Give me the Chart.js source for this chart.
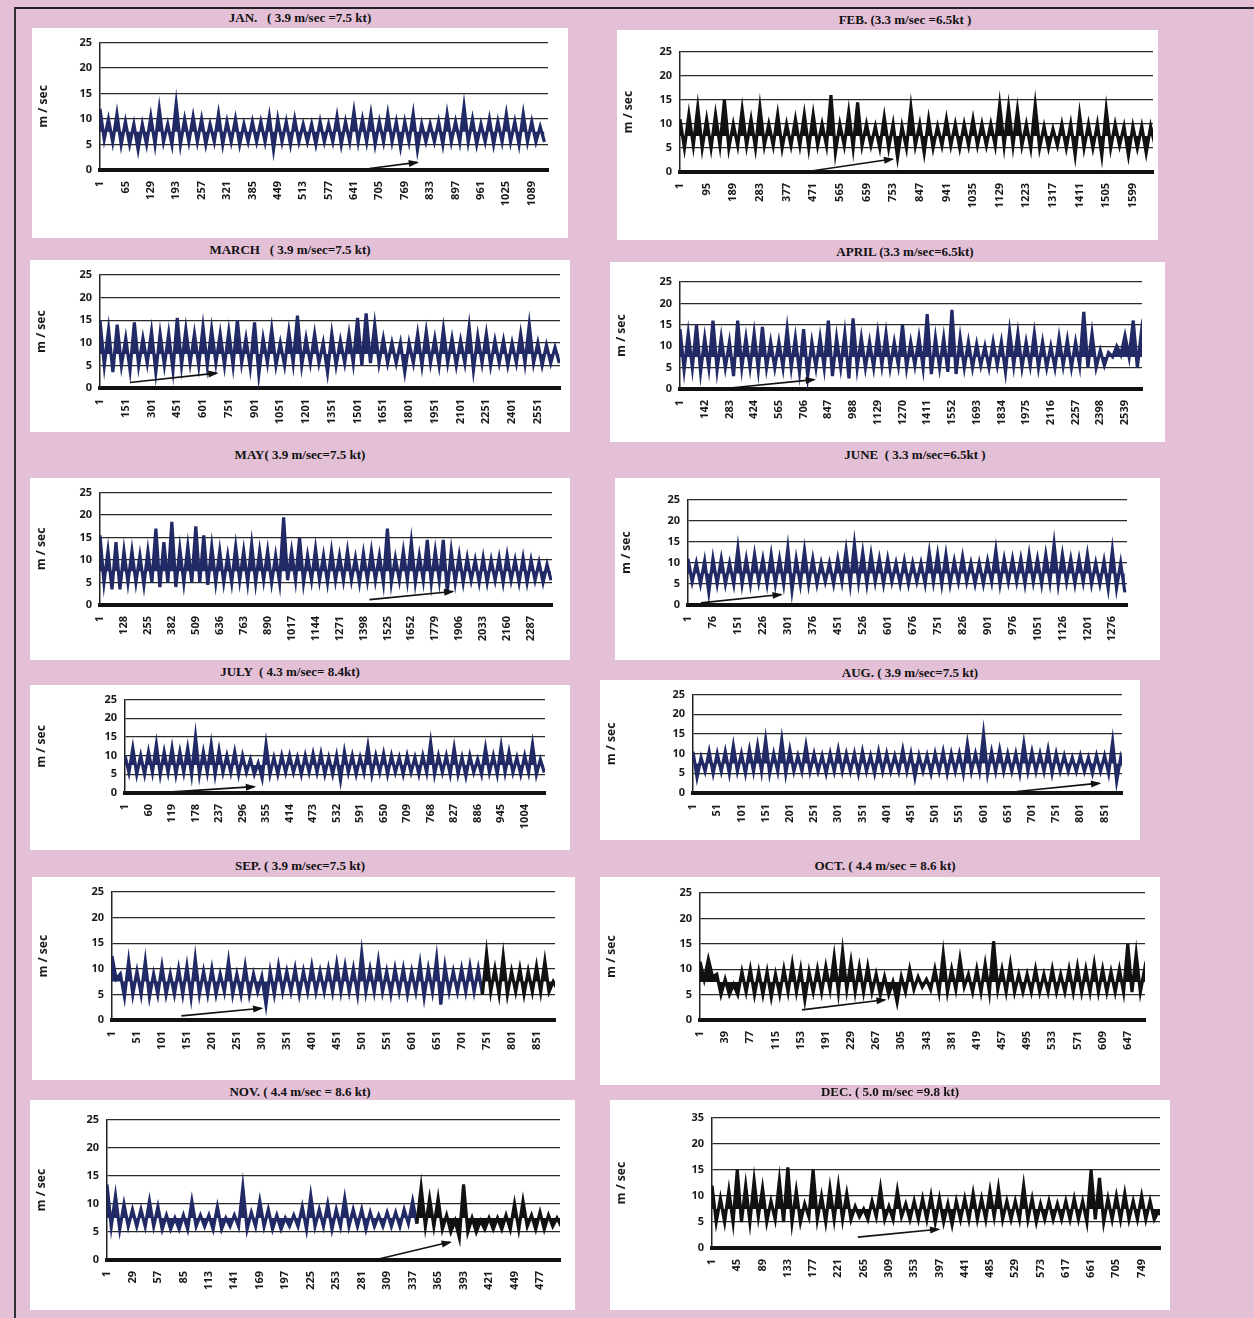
<!DOCTYPE html>
<html>
<head>
<meta charset="utf-8">
<script src="https://cdn.jsdelivr.net/npm/chart.js@4.4.1/dist/chart.umd.min.js"></script>
<style>
  html, body { margin: 0; padding: 0; }
  body { width: 1254px; height: 1318px; background: #e4c0d7; position: relative; overflow: hidden; }
  .frame { position: absolute; left: 14px; top: 7px; width: 1240px; height: 1311px; border-top: 2px solid #222; border-left: 2px solid #333; }
  .box { position: absolute; background: #fff; }
  .title { position: absolute; transform: translateX(-50%); white-space: pre; font: bold 13px "Liberation Serif", serif; color: #111; }
</style>
</head>
<body>
<div class="frame"></div>
<script>
// tick labels along the x axis of each month
const janTicks = [1, 65, 129, 193, 257, 321, 385, 449, 513, 577, 641, 705, 769, 833, 897, 961, 1025, 1089];
const febTicks = [1, 95, 189, 283, 377, 471, 565, 659, 753, 847, 941, 1035, 1129, 1223, 1317, 1411, 1505, 1599];
const marTicks = [1, 151, 301, 451, 601, 751, 901, 1051, 1201, 1351, 1501, 1651, 1801, 1951, 2101, 2251, 2401, 2551];
const aprTicks = [1, 142, 283, 424, 565, 706, 847, 988, 1129, 1270, 1411, 1552, 1693, 1834, 1975, 2116, 2257, 2398, 2539];
const mayTicks = [1, 128, 255, 382, 509, 636, 763, 890, 1017, 1144, 1271, 1398, 1525, 1652, 1779, 1906, 2033, 2160, 2287];
const junTicks = [1, 76, 151, 226, 301, 376, 451, 526, 601, 676, 751, 826, 901, 976, 1051, 1126, 1201, 1276];
const julTicks = [1, 60, 119, 178, 237, 296, 355, 414, 473, 532, 591, 650, 709, 768, 827, 886, 945, 1004];
const augTicks = [1, 51, 101, 151, 201, 251, 301, 351, 401, 451, 501, 551, 601, 651, 701, 751, 801, 851];
const sepTicks = [1, 51, 101, 151, 201, 251, 301, 351, 401, 451, 501, 551, 601, 651, 701, 751, 801, 851];
const octTicks = [1, 39, 77, 115, 153, 191, 229, 267, 305, 343, 381, 419, 457, 495, 533, 571, 609, 647];
const novTicks = [1, 29, 57, 85, 113, 141, 169, 197, 225, 253, 281, 309, 337, 365, 393, 421, 449, 477];
const decTicks = [1, 45, 89, 133, 177, 221, 265, 309, 353, 397, 441, 485, 529, 573, 617, 661, 705, 749];

// last reading number of each month
const lastReading = [1130, 1670, 2680, 2636, 2398, 1320, 1055, 887, 888, 673, 499, 781];

// wind speed (m/sec): upper and lower edge of the trace, 3 readings per tick step
const janHi = [12,10,11, 9.5,9,9, 10.5,12,9, 13,10,10.5, 10,9,11, 9.5,10,9, 9.5,9.5,10.5, 10,9.5,10, 9,9,9.5,
  9,10.5,9.5, 11.5,10,11, 9.5,11,9.5, 9.5,11,9, 9,9.5,11, 9.5,12.5,10, 9,10,9.5, 11,9.5,11, 9.5,8.5];
const janLo = [6,5.5,5, 5,4,5, 5,5.5,5, 5,5.5,5.5, 5,5.5,5, 5.5,5,5.5, 5.5,5.5,4, 5.5,5,5.5, 5.5,5,5.5,
  5.5,5,5.5, 5.5,5.5,5, 5.5,5.5,4.5, 5.5,4,5.5, 5.5,5,5.5, 5.5,5.5,5, 5.5,5,5.5, 5.5,5,5.5, 5.5,5.5];
const febHi = [11,12,13.5, 11,12,15, 10,13,11, 13.5,10,12, 10,11,12, 12,10,16, 10,12.5,14.5, 10,9.5,11.5,
  10,9.5,13.5, 10,11,9.5, 11,10,10, 11,10,10, 14,13.5,13, 10,14,9.5, 9,10,10, 12,10,10, 13,10,9.5, 9.5,9.5,9.5];
const febLo = [5,5.5,5, 5,5.5,5, 5.5,5.5,5, 5.5,5.5,5, 5.5,5.5,5, 5.5,5.5,4, 5.5,5,5.5, 5.5,5,5,
  3,5,5.5, 4,5,5.5, 5.5,5,5.5, 5.5,5.5,5.5, 5.5,5.5,5.5, 5,5,5, 5.5,5,3.5, 5,5,3.5, 5,5.5,3.5, 5,4,5.5];
const marHi = [15,13,14, 11,14.5,11, 12.5,12,12, 15.5,13,12, 13.5,13,12, 12.5,15,11, 14.5,11,13, 10,12.5,16,
  11,12,10, 12,10.5,12, 15.5,16.5,14, 11,10,10, 10,12,12.5, 11,13,11, 10.5,13.5,11.5, 12,10.5,10.5, 10,12,14, 10,9.5,9];
const marLo = [5,3.5,5, 4,5,5.5, 3.5,5,4, 5,5.5,5, 5,5.5,5, 5,5.5,4.5, 3,5.5,5, 5,5.5,5,
  5.5,5.5,3.5, 5,5.5,5.5, 5,5.5,5.5, 5.5,5.5,3.5, 5.5,5,5.5, 5,5.5,5, 5.5,4,5.5, 5,5.5,5, 5.5,5.5,5.5, 5,5.5,5.5];
const aprHi = [14,13,15, 12,16,12, 11,16,12, 13,14.5,11, 11,14,12, 14,11,12, 16,12,13, 16.5,12,11,
  13,13,11, 15,11,12, 17.5,12,12, 18.5,12,11, 10.5,10,11, 11,13.5,13, 11,13,11, 10,12,11.5, 11,18,13, 9,8.5,10, 12.5,16,13.5];
const aprLo = [4.5,5,4, 5,4.5,5, 3,5,5, 4.5,5,5, 5,5,4, 3,5,5, 3,5,2.5, 5,5,5,
  5.5,5,5.5, 5,5.5,5, 3.5,5,4, 3.5,5,5, 5.5,5,5.5, 4,5.5,5, 5.5,5,5, 5,5.5,5, 5.5,5,5, 5.5,7.5,8, 7.5,5,5.5];
const mayHi = [15.5,12,14, 12,12,11, 12,17,14, 18.5,12.5,13, 17.5,15.5,13, 12,11,13, 12,13.5,12, 12,11,19.5,
  12,15,11, 12.5,11,12, 11,12,10.5, 11.5,12,11, 17,10.5,12, 14,11,14.5, 12,14.5,12, 11,10.5,10, 10.5,10,10.5, 11,10,10.5, 10,9.5,9];
const mayLo = [5,3.5,3.5, 5,5,4.5, 5,4,5, 4,5,5, 5,4.5,5, 5,5,5.5, 5,5,5.5, 5,5,5.5,
  5.5,5,5.5, 5.5,5,5.5, 5.5,5.5,5, 5.5,5.5,5, 5,5.5,5.5, 5,5.5,5, 5.5,3,5, 5,5.5,5, 5,5.5,5, 5.5,5,5, 5.5,5,5.5];
const junHi = [11,10,10.5, 11,11,10, 13.5,11,12, 11,12,11, 13.5,11,13, 11,10,10, 11,13,14.5, 12.5,12,11,
  11,10,10.5, 10,10,12.5, 12,12,10.5, 11.5,10,10, 10.5,13,11, 11,11,12, 11,12,14.5, 12,11,11, 12,10,10.5, 13,10];
const junLo = [5.5,5,3, 5,5,5, 5,5,5.5, 5,5,5, 3.5,5,5, 5,5.5,5, 5.5,5,5.5, 5,5.5,5,
  5.5,5,5, 5.5,5,5.5, 5,5,5.5, 5.5,5,5, 5.5,5,5.5, 5.5,5,5.5, 5,5.5,5, 5.5,5,5.5, 5,5,4, 4,3];
const julHi = [10,12,10, 11,13,11, 12,11,12, 15,11,13, 11.5,10,11, 10,9,8, 13,9.5,10, 10,9.5,10,
  10.5,10.5,9.5, 10,11,10, 9.5,12.5,10, 10.5,10,9.5, 10,9.5,10, 13.5,10,10, 12,9.5,10, 9,12,10, 12.5,11,9.5, 10,13,9];
const julLo = [5.5,5,5, 5.5,5,5.5, 5,5.5,5, 5,5.5,5, 5.5,5.5,5, 5.5,5,4, 5,5,5.5, 5.5,5,5.5,
  5.5,5,5, 3.5,5.5,5, 5.5,5,5.5, 5,5.5,5, 5.5,5,5.5, 5,5.5,5, 5,4.5,5.5, 5,5.5,5, 5.5,5.5,5, 5.5,5,5.5];
const augHi = [10.5,9,10.5, 10,10.5,12, 10,11,12, 13.5,10,13.5, 11,9.5,12, 10,9.5,10, 11,10,10, 10.5,9.5,10.5,
  10,9.5,11, 10,9.5,9.5, 10,10.5,10, 10,12.5,10, 15,10.5,11, 10,10,12.5, 10.5,10,11, 10,9.5,9, 9.5,9,9.5, 9.5,13,9];
const augLo = [4,5.5,5, 5.5,5,5.5, 5,5.5,5.5, 5,5.5,5, 5.5,5.5,5.5, 5.5,5,5.5, 5.5,5.5,5, 5.5,5,5.5,
  5.5,5.5,5.5, 4,5.5,5, 5.5,5,5.5, 5,5.5,5.5, 5,5.5,5.5, 5.5,5,5.5, 5.5,5.5,5, 5.5,5.5,5.5, 5.5,5,5.5, 5,3,5.5];
const sepHi = [12.5,9,11.5, 9.5,11.5,9, 10.5,9,10, 10.5,12,9.5, 10,9,11.5, 9,10.5,9, 8.5,9.5,10.5, 9.5,10,9.5,
  10.5,9.5,10, 11,10.5,10, 13,10,11.5, 9.5,10,10, 9.5,11,10, 12,10.5,9.5, 10,10.5,10, 13,10,12.5, 9.5,10,9.5, 10.5,11.5,7.5];
const sepLo = [8,4.5,5, 5,4.5,5, 5,5,5, 4.5,5,5, 5,5.5,5, 5,5,5.5, 3,5,5.5, 5.5,5,5.5,
  5.5,5.5,5.5, 5.5,5.5,5, 5.5,5.5,5.5, 5,5.5,5, 5.5,4.5,5.5, 3,5.5,5.5, 5.5,5.5,5, 5.5,5,5, 5.5,5,5.5, 5.5,5.5,6];
const octHi = [11.5,12,9, 8,7,9.5, 10,9.5,9.5, 9,10,11, 10,9.5,10, 10.5,12.5,13.5, 11.5,10.5,10.5, 9,8.5,7.5,
  8.5,10,8.5, 8,10,13, 10,12,9, 10,11,15.5, 10,11,9, 9,10,9, 10,9,10, 10.5,10,11, 10,9.5,10, 15,13,10];
const octLo = [8,8.5,5, 5,5,5.5, 5,5,4.5, 5,5.5,5.5, 4,5.5,5.5, 6,5.5,6, 5.5,5.5,5.5, 5,5,3.5,
  5.5,6,6.5, 6,5.5,5.5, 6,6.5,5.5, 5.5,5.5,6, 5.5,5.5,5.5, 5.5,5.5,5.5, 5.5,5.5,5.5, 5.5,5.5,5.5, 5.5,5.5,5.5, 5.5,5.5,5.5];
const novHi = [13.5,11.5,10, 9,9,10.5, 9.5,8,7.5, 8,10.5,8, 8,9.5,7.5, 8,13,8.5, 10.5,9,8, 7.5,8,9.5,
  11.5,9,10, 9,11,9, 9,8.5,8, 8.5,8.5,9, 10.5,13,11, 11,8,7, 13.5,7.5,7, 7.5,7.5,8, 10,10.5,8, 8.5,8,7.5];
const novLo = [6,5.5,6, 6,6,6, 5.5,5.5,5.5, 5.5,6,6, 5.5,5.5,6, 6,5.5,6, 6,5.5,5.5, 6,6,5.5,
  6,6,5.5, 6,6,6, 5.5,6,6, 6,6,6.5, 6.5,6,6, 5.5,5,4, 5,5,5.5, 5.5,5.5,5.5, 5.5,6,5.5, 5.5,6,6];
const decHi = [12,9.5,11, 15,12,13, 11.5,9,13, 15.5,11,8.5, 15,10,11.5, 12,10.5,8, 7.5,9,11.5, 8,11,8.5,
  9,9.5,10, 9.5,8.5,9, 9.5,10.5,9.5, 11,11.5,9, 9,12,9.5, 8.5,9,8.5, 9,9.5,9, 15,13.5,9.5, 10,10.5,9, 10,9,7];
const decLo = [5,5,5, 5,5,6, 5,5.5,5, 5,5,6, 5.5,5,5.5, 5.5,5.5,6, 5.5,6,5.5, 5.5,6,5.5,
  5.5,5.5,5, 5,4.5,5.5, 5.5,5.5,5.5, 6,5.5,5.5, 5.5,5.5,5, 5.5,5.5,5.5, 5.5,5.5,5, 5.5,5,5.5, 5.5,5.5,5.5, 5.5,5.5,6];

// hand-drawn arrows on the originals: [from reading, from m/sec, to reading, to m/sec]
const arrows = [
  [680, 0.3, 800, 1.5], [440, 0, 750, 2.7], [175, 1.2, 680, 3.3], [300, 0.3, 765, 2.2],
  [1430, 1.2, 1870, 3], [40, 0.5, 280, 2.5], [120, 0.3, 325, 1.7], [670, 0.4, 840, 2.5],
  [140, 0.8, 300, 2.3], [155, 2, 280, 4], [295, 0, 378, 3.2], [255, 2.1, 395, 3.6]
];

const titles = [
  'JAN.   ( 3.9 m/sec =7.5 kt)', 'FEB. (3.3 m/sec =6.5kt )', 'MARCH   ( 3.9 m/sec=7.5 kt)', 'APRIL (3.3 m/sec=6.5kt)',
  'MAY( 3.9 m/sec=7.5 kt)', 'JUNE  ( 3.3 m/sec=6.5kt )', 'JULY  ( 4.3 m/sec= 8.4kt)', 'AUG. ( 3.9 m/sec=7.5 kt)',
  'SEP. ( 3.9 m/sec=7.5 kt)', 'OCT. ( 4.4 m/sec = 8.6 kt)', 'NOV. ( 4.4 m/sec = 8.6 kt)', 'DEC. ( 5.0 m/sec =9.8 kt)'
];

const NAVY = '#222a66';
const BLACK = '#111111';

// layout: white box [left, top, width, height], plot [axisX, y of 25, rightX, y of 0], title [centerX, top]
const panels = [
  { ticks: janTicks, hi: janHi, lo: janLo, color: NAVY, box: [32, 28, 536, 210], plot: [100, 40, 548, 170], t: [300, 10] },
  { ticks: febTicks, hi: febHi, lo: febLo, color: BLACK, box: [617, 30, 541, 210], plot: [680, 52, 1153, 172], t: [905, 12] },
  { ticks: marTicks, hi: marHi, lo: marLo, color: NAVY, box: [30, 260, 540, 172], plot: [100, 275, 560, 388], t: [290, 242] },
  { ticks: aprTicks, hi: aprHi, lo: aprLo, color: NAVY, box: [610, 262, 555, 180], plot: [680, 282, 1142, 389], t: [905, 244] },
  { ticks: mayTicks, hi: mayHi, lo: mayLo, color: NAVY, box: [30, 478, 540, 182], plot: [100, 490, 552, 605], t: [300, 447] },
  { ticks: junTicks, hi: junHi, lo: junLo, color: NAVY, box: [615, 478, 545, 182], plot: [688, 500, 1127, 605], t: [915, 447] },
  { ticks: julTicks, hi: julHi, lo: julLo, color: NAVY, box: [30, 685, 540, 165], plot: [125, 690, 545, 793], t: [290, 664] },
  { ticks: augTicks, hi: augHi, lo: augLo, color: NAVY, box: [600, 680, 540, 160], plot: [693, 690, 1122, 793], t: [910, 665] },
  { ticks: sepTicks, hi: sepHi, lo: sepLo, color: NAVY, split: 735, box: [32, 877, 543, 203], plot: [112, 892, 555, 1020], t: [300, 858] },
  { ticks: octTicks, hi: octHi, lo: octLo, color: BLACK, box: [600, 877, 560, 208], plot: [700, 893, 1145, 1020], t: [885, 858] },
  { ticks: novTicks, hi: novHi, lo: novLo, color: NAVY, split: 340, box: [30, 1100, 545, 210], plot: [107, 1120, 560, 1260], t: [300, 1084] },
  { ticks: decTicks, hi: decHi, lo: decLo, color: BLACK, topLabel: '35', box: [610, 1100, 560, 210], plot: [712, 1118, 1160, 1248], t: [890, 1084] }
];

// trace goes up to the upper edge and back down to the lower edge for every reading
function trace(hi, lo, step) {
  const d = step / 3;
  const pts = [];
  hi.forEach((h, i) => {
    const x = 1 + i * d;
    pts.push({ x, y: h });
    if (lo[i] !== undefined) pts.push({ x: x + d / 2, y: lo[i] });
  });
  return pts;
}

const arrowPlugin = {
  id: 'arrow',
  afterDatasetsDraw(chart, args, opts) {
    const a = opts.a;
    if (!a) return;
    const xs = chart.scales.x, ys = chart.scales.y;
    const x0 = xs.getPixelForValue(a[0]), y0 = ys.getPixelForValue(a[1]);
    const x1 = xs.getPixelForValue(a[2]), y1 = ys.getPixelForValue(a[3]);
    const ang = Math.atan2(y1 - y0, x1 - x0);
    const ctx = chart.ctx;
    ctx.save();
    ctx.strokeStyle = '#111';
    ctx.fillStyle = '#111';
    ctx.lineWidth = 1.6;
    ctx.beginPath();
    ctx.moveTo(x0, y0);
    ctx.lineTo(x1, y1);
    ctx.stroke();
    ctx.beginPath();
    ctx.moveTo(x1 + 2, y1);
    ctx.lineTo(x1 - 9 * Math.cos(ang - 0.4), y1 - 9 * Math.sin(ang - 0.4));
    ctx.lineTo(x1 - 9 * Math.cos(ang + 0.4), y1 - 9 * Math.sin(ang + 0.4));
    ctx.closePath();
    ctx.fill();
    ctx.restore();
  }
};

panels.forEach((p, k) => {
  const [bx, by, bw, bh] = p.box;
  const [ax, y25, rx, y0] = p.plot;

  const title = document.createElement('div');
  title.className = 'title';
  title.style.left = p.t[0] + 'px';
  title.style.top = p.t[1] + 'px';
  title.textContent = titles[k];
  document.body.appendChild(title);

  const box = document.createElement('div');
  box.className = 'box';
  box.style.left = bx + 'px';
  box.style.top = by + 'px';
  box.style.width = bw + 'px';
  box.style.height = bh + 'px';
  const canvas = document.createElement('canvas');
  box.appendChild(canvas);
  document.body.appendChild(box);

  const step = p.ticks[1] - p.ticks[0];
  const lineColor = p.split
    ? ctx => (ctx.p0.parsed.x >= p.split ? BLACK : p.color)
    : p.color;

  new Chart(canvas, {
    type: 'line',
    data: {
      datasets: [{
        data: trace(p.hi, p.lo, step),
        borderColor: p.color,
        backgroundColor: p.color,
        borderWidth: 3.2,
        pointRadius: 0,
        tension: 0,
        fill: { value: 7.5 },
        segment: { borderColor: lineColor, backgroundColor: lineColor }
      }]
    },
    options: {
      responsive: true,
      maintainAspectRatio: false,
      animation: false,
      devicePixelRatio: 1,
      layout: { padding: { left: 2, top: y25 - by, right: bx + bw - rx, bottom: 0 } },
      plugins: {
        legend: { display: false },
        tooltip: { enabled: false },
        arrow: { a: arrows[k] }
      },
      scales: {
        x: {
          type: 'linear',
          min: 1,
          max: lastReading[k],
          afterBuildTicks: s => { s.ticks = p.ticks.map(v => ({ value: v })); },
          afterFit: s => { s.height = by + bh - y0; },
          grid: { display: false },
          border: { display: true, color: '#111', width: 4 },
          ticks: {
            autoSkip: false,
            maxRotation: 90,
            minRotation: 90,
            padding: 3,
            color: '#1a1a1a',
            font: { family: 'Noto Sans', size: 11, weight: 'bold' },
            callback: v => String(v)
          }
        },
        y: {
          min: 0,
          max: 25,
          afterFit: s => { s.width = ax - bx - 2; },
          ticks: {
            stepSize: 5,
            padding: 8,
            color: '#1a1a1a',
            font: { family: 'Noto Sans', size: 11, weight: 'bold' },
            callback: v => (v === 25 && p.topLabel ? p.topLabel : v)
          },
          grid: {
            drawTicks: false,
            color: '#2a2a2a',
            lineWidth: c => (c.tick && c.tick.value === 0 ? 0 : 1.3)
          },
          border: { display: true, color: '#222', width: 1.5 },
          title: {
            display: true,
            text: 'm / sec',
            color: '#1a1a1a',
            padding: 2,
            font: { family: 'Noto Sans', size: 12, weight: 'bold' }
          }
        }
      }
    },
    plugins: [arrowPlugin]
  });
});
</script>
</body>
</html>
